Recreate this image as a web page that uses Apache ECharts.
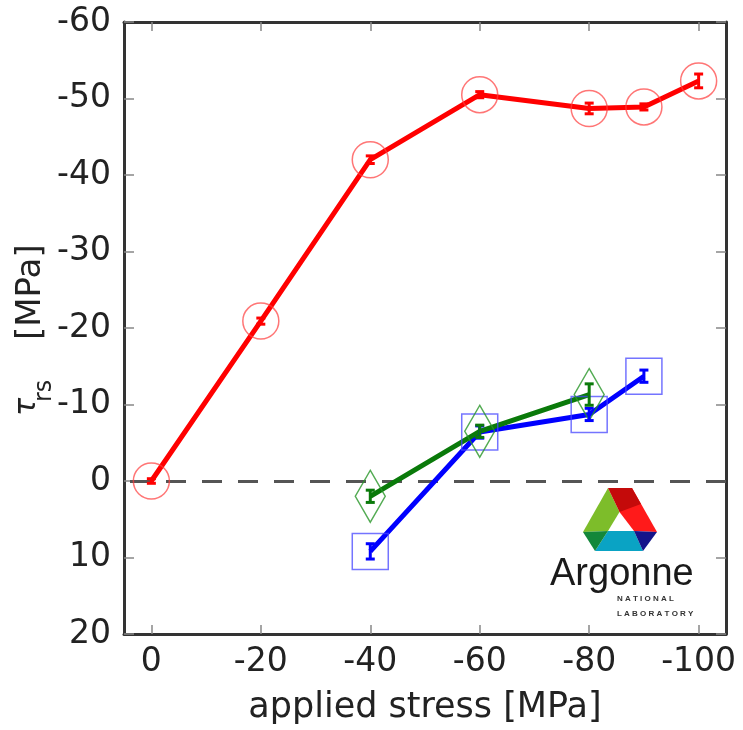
<!DOCTYPE html>
<html>
<head>
<meta charset="utf-8">
<script src="https://cdn.jsdelivr.net/npm/echarts@6/dist/echarts.min.js"></script>
<style>
html,body{margin:0;padding:0;background:#fff;}
#chart{width:743px;height:730px;}
</style>
</head>
<body>
<div id="chart"></div>
<script>
// ---- data ----
const xTicks = [0, -20, -40, -60, -80, -100];
const xRed = [0, -20, -40, -60, -80, -90, -100];
const yRed = [0, -20.9, -42.0, -50.5, -48.7, -48.9, -52.3];
const eRed = [0.3, 0.4, 0.5, 0.4, 0.7, 0.4, 0.9];
const xBlue = [-40, -60, -80, -90];
const yBlue = [9.2, -6.4, -8.7, -13.7];
const eBlue = [1.0, 0.8, 0.8, 0.8];
const xGreen = [-40, -60, -80];
const yGreen = [2.0, -6.5, -11.3];
const eGreen = [0.8, 0.8, 1.4];

const FONT = 'DejaVu Sans';
const chart = echarts.init(document.getElementById('chart'));

function pairs(xs, ys) { return xs.map((x, i) => [x, ys[i]]); }
function triples(xs, ys, es) { return xs.map((x, i) => [x, ys[i], es[i]]); }

function errSeries(xs, ys, es, color) {
  return {
    type: 'custom',
    silent: true,
    z: 5,
    data: triples(xs, ys, es),
    renderItem: function (params, api) {
      const x = api.value(0), y = api.value(1), e = api.value(2);
      const a = api.coord([x, y - e]);
      const b = api.coord([x, y + e]);
      const w = 4.5;
      const st = { stroke: color, lineWidth: 3 };
      return {
        type: 'group',
        children: [
          { type: 'line', shape: { x1: a[0], y1: a[1], x2: b[0], y2: b[1] }, style: st },
          { type: 'line', shape: { x1: a[0] - w, y1: a[1], x2: a[0] + w, y2: a[1] }, style: st },
          { type: 'line', shape: { x1: b[0] - w, y1: b[1], x2: b[0] + w, y2: b[1] }, style: st }
        ]
      };
    }
  };
}

function lineSeries(xs, ys, color, markerColor, symbol, size, extra) {
  return Object.assign({
    type: 'line',
    data: pairs(xs, ys),
    symbol: symbol,
    symbolSize: size,
    showSymbol: true,
    lineStyle: { color: color, width: 5 },
    itemStyle: { color: 'rgba(0,0,0,0)', borderColor: markerColor, borderWidth: 1.5 },
    emphasis: { disabled: true },
    z: 3
  }, extra || {});
}

const axisLineStyle = { color: '#333', width: 3 };
const tickStyle = { color: '#888', width: 1.5 };

const option = {
  animation: false,
  backgroundColor: '#fff',
  grid: { left: 124, right: 17, top: 22, bottom: 95 },
  xAxis: [
    {
      type: 'value', min: -105, max: 5, inverse: true, position: 'bottom',
      axisLine: { show: true, onZero: false, lineStyle: axisLineStyle },
      axisTick: { show: true, inside: true, length: 9, customValues: xTicks, lineStyle: tickStyle },
      axisLabel: { customValues: xTicks, fontSize: 33, fontFamily: FONT, color: '#222', margin: 12 },
      splitLine: { show: false },
      name: 'applied stress [MPa]', nameLocation: 'middle', nameGap: 56,
      nameTextStyle: { fontSize: 35, fontFamily: FONT, color: '#222' }
    },
    {
      type: 'value', min: -105, max: 5, inverse: true, position: 'top',
      axisLine: { show: true, onZero: false, lineStyle: axisLineStyle },
      axisTick: { show: true, inside: true, length: 9, customValues: xTicks, lineStyle: tickStyle },
      axisLabel: { show: false },
      splitLine: { show: false }
    }
  ],
  yAxis: [
    {
      type: 'value', min: -60, max: 20, interval: 10, inverse: true, position: 'left',
      axisLine: { show: true, onZero: false, lineStyle: axisLineStyle },
      axisTick: { show: true, inside: true, length: 10, lineStyle: tickStyle },
      axisLabel: { fontSize: 33, fontFamily: FONT, color: '#222', margin: 13 },
      splitLine: { show: false }
    },
    {
      type: 'value', min: -60, max: 20, interval: 10, inverse: true, position: 'right',
      axisLine: { show: true, onZero: false, lineStyle: axisLineStyle },
      axisTick: { show: true, inside: true, length: 10, lineStyle: tickStyle },
      axisLabel: { show: false },
      splitLine: { show: false }
    }
  ],
  series: [
    lineSeries(xRed, yRed, '#ff0000', 'rgba(255,60,60,0.7)', 'circle', 36, {
      markLine: {
        silent: true, symbol: 'none', label: { show: false },
        lineStyle: { type: [20, 16], color: '#555', width: 3 },
        data: [{ yAxis: 0 }],
        z: 1
      }
    }),
    errSeries(xRed, yRed, eRed, '#ff0000'),
    lineSeries(xBlue, yBlue, '#0000ff', 'rgba(70,70,255,0.75)', 'rect', 36),
    errSeries(xBlue, yBlue, eBlue, '#0000ff'),
    lineSeries(xGreen, yGreen, '#0a7a0a', 'rgba(40,150,40,0.8)', 'diamond', [30, 52]),
    errSeries(xGreen, yGreen, eGreen, '#0a7a0a')
  ],
  graphic: [
    // y-axis title
    { type: 'text', x: 31, y: 340, rotation: Math.PI / 2, silent: true,
      style: { text: '[MPa]', font: '34px "DejaVu Sans"', fill: '#222', align: 'left', verticalAlign: 'middle' } },
    { type: 'text', x: 27, y: 416, rotation: Math.PI / 2, silent: true,
      style: { text: 'τ', font: 'italic 30px "DejaVu Sans"', fill: '#222', align: 'left', verticalAlign: 'middle' } },
    { type: 'text', x: 45, y: 402, rotation: Math.PI / 2, silent: true,
      style: { text: 'rs', font: '24px "DejaVu Sans"', fill: '#222', align: 'left', verticalAlign: 'middle' } },
    // Argonne logo
    { type: 'polygon', silent: true, shape: { points: [[608, 488], [619.5, 512], [608, 531], [583, 532]] }, style: { fill: '#7dbd2a' } },
    { type: 'polygon', silent: true, shape: { points: [[632, 488], [657, 532], [634, 531], [619.5, 512]] }, style: { fill: '#ff1a1a' } },
    { type: 'polygon', silent: true, shape: { points: [[608, 488], [632, 488], [641, 504], [619.5, 512]] }, style: { fill: '#c40a0a' } },
    { type: 'polygon', silent: true, shape: { points: [[608, 531], [634, 531], [643, 551], [595, 551]] }, style: { fill: '#0aa3c4' } },
    { type: 'polygon', silent: true, shape: { points: [[634, 531], [657, 532], [643, 551]] }, style: { fill: '#14148a' } },
    { type: 'polygon', silent: true, shape: { points: [[583, 532], [608, 531], [595, 551]] }, style: { fill: '#13873a' } },
    { type: 'text', x: 550, y: 575, silent: true,
      style: { text: 'Argonne', font: '38px "Liberation Sans"', fill: '#1a1a1a', align: 'left', verticalAlign: 'middle' } },
    { type: 'text', x: 617, y: 599, silent: true,
      style: { text: 'N A T I O N A L', font: 'bold 8px "Liberation Sans"', fill: '#333', align: 'left', verticalAlign: 'middle' } },
    { type: 'text', x: 617, y: 614, silent: true,
      style: { text: 'L A B O R A T O R Y', font: 'bold 8px "Liberation Sans"', fill: '#333', align: 'left', verticalAlign: 'middle' } }
  ]
};
chart.setOption(option);
</script>
</body>
</html>
